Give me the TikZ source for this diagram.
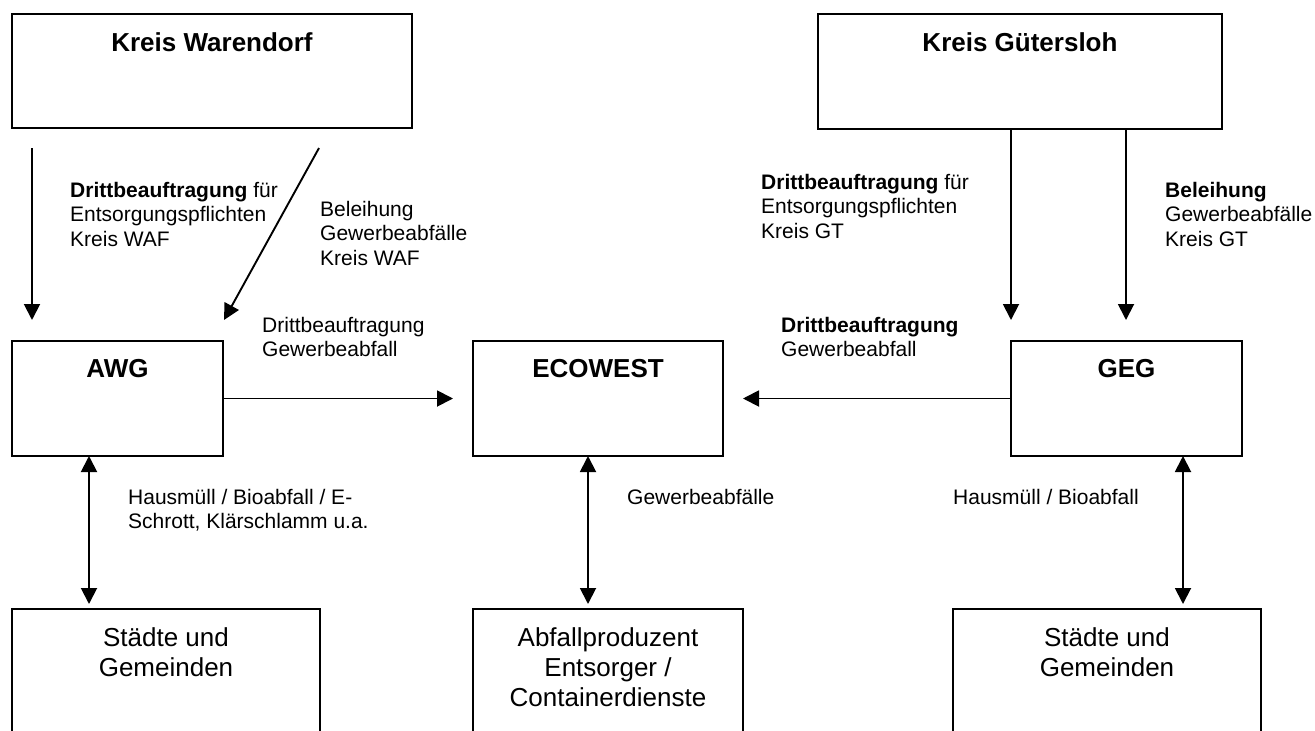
\documentclass[tikz,border=0pt]{standalone}
\usepackage{fontspec}
\setmainfont{Liberation Sans}
\usetikzlibrary{arrows.meta}
\begin{document}
\begin{tikzpicture}[x=1pt,y=-1pt,
  boxsty/.style={draw,line width=1.8pt,inner sep=0pt,outer sep=0pt},
  title/.style={font=\fontsize{26}{30}\selectfont\bfseries,inner sep=0pt,anchor=north,align=center},
  boxtext/.style={font=\fontsize{26}{30}\selectfont,inner sep=0pt,anchor=north,align=center},
  lbl/.style={font=\fontsize{21}{24.5}\selectfont,inner sep=0pt,anchor=north west,align=left},
  arr/.style={line width=1.9pt,-{Triangle[length=16pt,width=16pt]}},
  darr/.style={line width=1.9pt,{Triangle[length=16pt,width=16pt]}-{Triangle[length=16pt,width=16pt]}}]
\fill[white] (0,0) rectangle (1315,731);
\clip (0,0) rectangle (1315,731);
% boxes
\node[boxsty,minimum width=400pt,minimum height=114pt] (kw) at (212,71) {};
\node[boxsty,minimum width=404pt,minimum height=115pt] (kg) at (1020,71.5) {};
\node[boxsty,minimum width=211pt,minimum height=115pt] (awg) at (117.5,398.5) {};
\node[boxsty,minimum width=250pt,minimum height=115pt] (eco) at (598,398.5) {};
\node[boxsty,minimum width=231pt,minimum height=115pt] (geg) at (1126.5,398.5) {};
\node[boxsty,minimum width=308pt,minimum height=151pt] (s1) at (166,684.5) {};
\node[boxsty,minimum width=270pt,minimum height=151pt] (ap) at (608,684.5) {};
\node[boxsty,minimum width=308pt,minimum height=151pt] (s2) at (1107,684.5) {};
% box texts
\node[title] (tkw) at ([yshift=-18.5pt]kw.north) {Kreis Warendorf};
\node[title] (tkg) at ([yshift=-18.5pt]kg.north) {Kreis Gütersloh};
\node[title] (tawg) at ([yshift=-18.5pt]awg.north) {AWG};
\node[title] (teco) at ([yshift=-18.5pt]eco.north) {ECOWEST};
\node[title] (tgeg) at ([yshift=-18.5pt]geg.north) {GEG};
\node[boxtext] (ts1) at ([yshift=-18.5pt]s1.north) {Städte und\\Gemeinden};
\node[boxtext] (tap) at ([yshift=-18.5pt]ap.north) {Abfallproduzent\\Entsorger /\\Containerdienste};
\node[boxtext] (ts2) at ([yshift=-18.5pt]s2.north) {Städte und\\Gemeinden};
% connector end points
\coordinate (a1s) at (32,148);
\coordinate (a1e) at (32,320);
\coordinate (a2s) at (319,148);
\coordinate (a2e) at (224,320);
\coordinate (a3e) at (453,398.5);
\coordinate (a4e) at (743,398.5);
\coordinate (a5e) at (1011,320);
\coordinate (a6e) at (1126,320);
\coordinate (a7e) at (89,604);
\coordinate (a8e) at (588,604);
\coordinate (a9e) at (1183,604);
% connectors
\draw[arr] (a1s) -- (a1e);
\draw[arr] (a2s) -- (a2e);
\draw[arr] (awg.east) -- (a3e);
\draw[arr] (geg.west) -- (a4e);
\draw[arr] (a5e |- kg.south) -- (a5e);
\draw[arr] (a6e |- kg.south) -- (a6e);
\draw[darr] (a7e |- awg.south) -- (a7e);
\draw[darr] (a8e |- eco.south) -- (a8e);
\draw[darr] (a9e |- geg.south) -- (a9e);
% labels
\node[lbl] (l1) at (70,182) {\textbf{Drittbeauftragung} für\\Entsorgungspflichten\\Kreis WAF};
\node[lbl] (l2) at (320,201) {Beleihung\\Gewerbeabfälle\\Kreis WAF};
\node[lbl] (l3) at (262,317) {Drittbeauftragung\\Gewerbeabfall};
\node[lbl] (l4) at (761,174) {\textbf{Drittbeauftragung} für\\Entsorgungspflichten\\Kreis GT};
\node[lbl] (l5) at (781,317) {\textbf{Drittbeauftragung}\\Gewerbeabfall};
\node[lbl] (l6) at (1165,182) {\textbf{Beleihung}\\Gewerbeabfälle\\Kreis GT};
\node[lbl] (l7) at (128,489) {Hausmüll / Bioabfall / E-\\Schrott, Klärschlamm u.a.};
\node[lbl] (l8) at (627,489) {Gewerbeabfälle};
\node[lbl] (l9) at (953,489) {Hausmüll / Bioabfall};
\end{tikzpicture}
\end{document}
